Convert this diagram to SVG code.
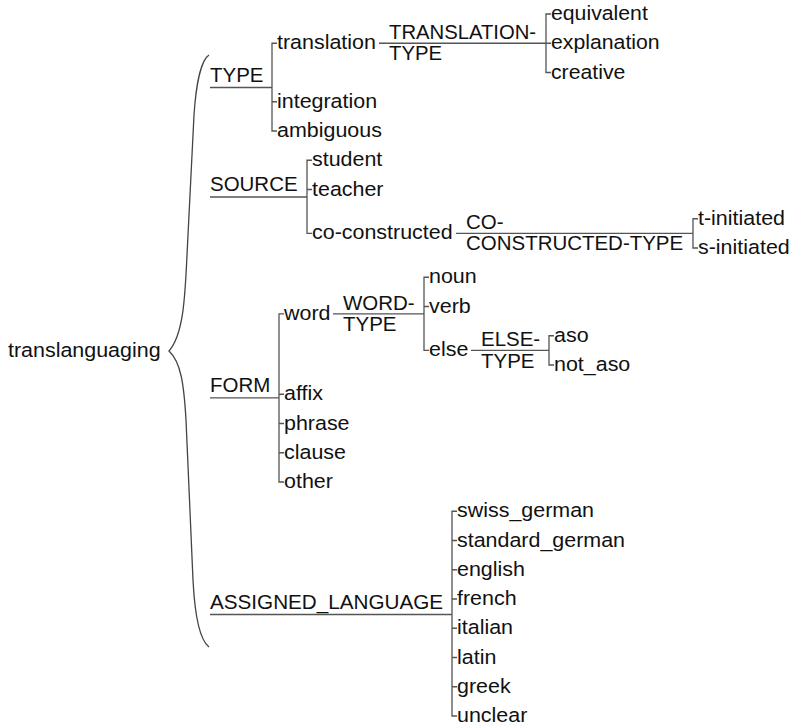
<svg xmlns="http://www.w3.org/2000/svg" width="791" height="728" viewBox="0 0 791 728">
<style>
text{font-family:"Liberation Sans",Arial,sans-serif;font-size:19.5px;fill:#111}
.c{fill:none;stroke:#555;stroke-width:1.3}
.br{fill:none;stroke:#444;stroke-width:1.3}
</style>
<rect width="791" height="728" fill="#fff"/>
<g id="connectors">
<path class="br" d="M209,55 C201,60 196,85 194,115 L187,255 C185,300 183,335 169,351 C181,362 184,385 186,420 L193,580 C195,620 200,640 209,647"/>
<!-- TYPE -->
<path class="c" d="M210,87.5 H272 M277,43.25 H272 V131 H277 M272,101.75 H277"/>
<path class="c" d="M379,43.25 H546 M551,14 H546 V72.5 H551 M546,43.25 H551"/>
<!-- SOURCE -->
<path class="c" d="M210,197 H307 M312,160.25 H307 V233.4 H312 M307,189.5 H312"/>
<path class="c" d="M456,233.4 H693 M698,218.75 H693 V248 H698"/>
<!-- FORM -->
<path class="c" d="M210,397.9 H279 M284,313.8 H279 V482 H284 M279,394.25 H284 M279,423.5 H284 M279,452.75 H284"/>
<path class="c" d="M333,313.8 H424 M429,277.25 H424 V350.4 H429 M424,306.5 H429"/>
<path class="c" d="M471,350.4 H549 M554,335.75 H549 V365 H554"/>
<!-- ASSIGNED_LANGUAGE -->
<path class="c" d="M210,614.5 H452 M457,511.25 H452 V716 H457 M452,540.5 H457 M452,569.75 H457 M452,599 H457 M452,628.25 H457 M452,657.5 H457 M452,686.75 H457"/>
</g>
<g id="root"><text transform="translate(8 357) scale(1.1 1)">translanguaging</text></g>
<g id="type"><text transform="translate(210 82) scale(1.05 1)">TYPE</text></g>
<g id="translation"><text transform="translate(277 49.25) scale(1.1 1)">translation</text></g>
<g id="translation-type"><text transform="translate(389 38.5) scale(1.04 1)">TRANSLATION-</text><text transform="translate(389 60) scale(1.04 1)">TYPE</text></g>
<g id="equivalent"><text transform="translate(551 20) scale(1.09 1)">equivalent</text></g>
<g id="explanation"><text transform="translate(551 49.25) scale(1.09 1)">explanation</text></g>
<g id="creative"><text transform="translate(551 78.5) scale(1.09 1)">creative</text></g>
<g id="integration"><text transform="translate(277 107.75) scale(1.1 1)">integration</text></g>
<g id="ambiguous"><text transform="translate(277 137) scale(1.1 1)">ambiguous</text></g>
<g id="source"><text transform="translate(210 191) scale(1.05 1)">SOURCE</text></g>
<g id="student"><text transform="translate(312 166.25) scale(1.1 1)">student</text></g>
<g id="teacher"><text transform="translate(312 195.5) scale(1.1 1)">teacher</text></g>
<g id="co-constructed"><text transform="translate(312 239.4) scale(1.1 1)">co-constructed</text></g>
<g id="co-constructed-type"><text transform="translate(466 228.5) scale(1.05 1)">CO-</text><text transform="translate(466 250) scale(1.05 1)">CONSTRUCTED-TYPE</text></g>
<g id="t-initiated"><text transform="translate(698 224.75) scale(1.1 1)">t-initiated</text></g>
<g id="s-initiated"><text transform="translate(698 254) scale(1.1 1)">s-initiated</text></g>
<g id="form"><text transform="translate(210 392) scale(1.05 1)">FORM</text></g>
<g id="word"><text transform="translate(284 319.8) scale(1.1 1)">word</text></g>
<g id="word-type"><text transform="translate(343 309.5) scale(1.05 1)">WORD-</text><text transform="translate(343 331) scale(1.05 1)">TYPE</text></g>
<g id="noun"><text transform="translate(429 283.25) scale(1.1 1)">noun</text></g>
<g id="verb"><text transform="translate(429 312.5) scale(1.1 1)">verb</text></g>
<g id="else"><text transform="translate(429 356.4) scale(1.1 1)">else</text></g>
<g id="else-type"><text transform="translate(481 346) scale(1.05 1)">ELSE-</text><text transform="translate(481 368) scale(1.05 1)">TYPE</text></g>
<g id="aso"><text transform="translate(554 341.75) scale(1.1 1)">aso</text></g>
<g id="not_aso"><text transform="translate(554 371) scale(1.1 1)">not_aso</text></g>
<g id="affix"><text transform="translate(284 400.25) scale(1.1 1)">affix</text></g>
<g id="phrase"><text transform="translate(284 429.5) scale(1.1 1)">phrase</text></g>
<g id="clause"><text transform="translate(284 458.75) scale(1.1 1)">clause</text></g>
<g id="other"><text transform="translate(284 488) scale(1.1 1)">other</text></g>
<g id="assigned_language"><text transform="translate(210 609) scale(1.06 1)">ASSIGNED_LANGUAGE</text></g>
<g id="swiss_german"><text transform="translate(457 517.25) scale(1.1 1)">swiss_german</text></g>
<g id="standard_german"><text transform="translate(457 546.5) scale(1.1 1)">standard_german</text></g>
<g id="english"><text transform="translate(457 575.75) scale(1.1 1)">english</text></g>
<g id="french"><text transform="translate(457 605) scale(1.1 1)">french</text></g>
<g id="italian"><text transform="translate(457 634.25) scale(1.1 1)">italian</text></g>
<g id="latin"><text transform="translate(457 663.5) scale(1.1 1)">latin</text></g>
<g id="greek"><text transform="translate(457 692.75) scale(1.1 1)">greek</text></g>
<g id="unclear"><text transform="translate(457 722) scale(1.1 1)">unclear</text></g>
</svg>
